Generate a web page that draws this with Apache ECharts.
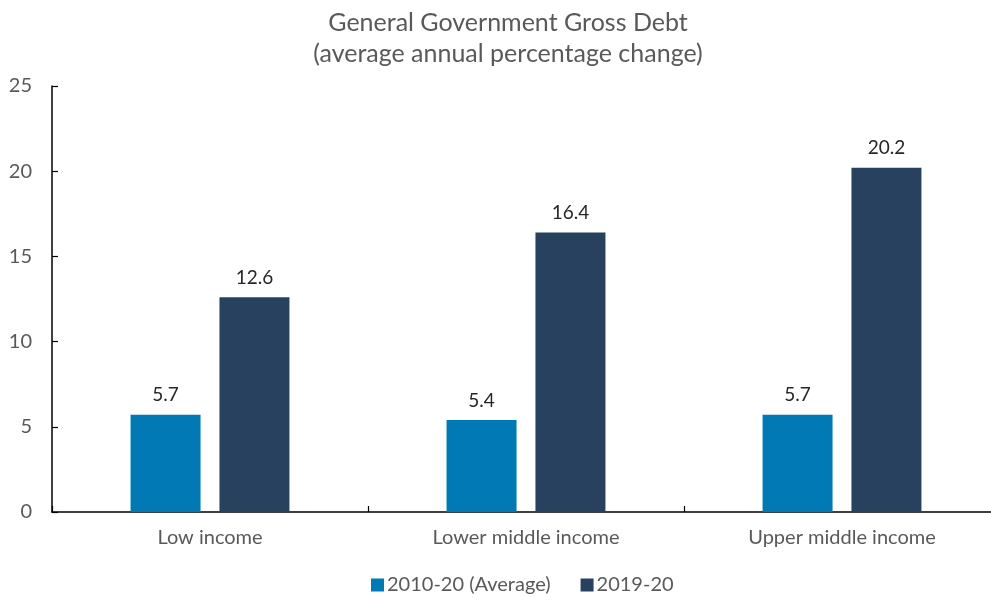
<!DOCTYPE html>
<html><head><meta charset="utf-8">
<script src="https://cdn.jsdelivr.net/npm/echarts@6/dist/echarts.min.js"></script>
<style>html,body{margin:0;padding:0;background:#fff}#c{width:991px;height:601px}</style>
</head><body><div id="c"></div>
<script>
const categories = ['Low income', 'Lower middle income', 'Upper middle income'];
const avg2010_20 = [5.7, 5.4, 5.7];
const yr2019_20 = [12.6, 16.4, 20.2];
const seriesNames = ['2010-20 (Average)', '2019-20'];
const yTicks = [0, 5, 10, 15, 20, 25];

const font = 'Lato, "Open Sans", sans-serif';
const chart = echarts.init(document.getElementById('c'));
chart.setOption({
  animation: false,
  backgroundColor: '#fff',
  title: {
    text: 'General Government Gross Debt\n(average annual percentage change)',
    left: 503, textAlign: 'center', top: 2,
    textStyle: {fontFamily: font, fontSize: 25, fontWeight: 'normal', color: '#595959', lineHeight: 31}
  },
  legend: {
    bottom: 1, left: 366, itemWidth: 13, itemHeight: 13, itemGap: 30,
    icon: 'rect',
    textStyle: {fontFamily: font, fontSize: 20, color: '#595959', padding: [0,0,0,-2]},
    data: seriesNames
  },
  grid: {left: 52, top: 86, width: 948, height: 426, containLabel: false, outerBoundsMode: 'none'},
  xAxis: {
    type: 'category', data: categories,
    axisLine: {lineStyle: {color: '#000', width: 1.5}},
    axisTick: {show: true, length: 6, inside: true, lineStyle: {color: '#000', width: 1.2}},
    axisLabel: {fontFamily: font, fontSize: 20, color: '#595959', margin: 16}
  },
  yAxis: {
    type: 'value', min: yTicks[0], max: yTicks[yTicks.length-1], interval: 5,
    splitLine: {show: false},
    axisLine: {show: true, lineStyle: {color: '#000', width: 1.5}},
    axisTick: {show: true, length: 6, inside: true, lineStyle: {color: '#000', width: 1.2}},
    axisLabel: {fontFamily: font, fontSize: 20, color: '#595959', margin: 20}
  },
  series: [
    {name: seriesNames[0], type: 'bar', data: avg2010_20, barWidth: 70, barGap: '27%',
     itemStyle: {color: '#0079B4'},
     label: {show: true, position: 'top', distance: 10, fontFamily: font, fontSize: 19, color: '#262626'}},
    {name: seriesNames[1], type: 'bar', data: yr2019_20, barWidth: 70,
     itemStyle: {color: '#27415E'},
     label: {show: true, position: 'top', distance: 10, fontFamily: font, fontSize: 19, color: '#262626'}}
  ]
});
</script></body></html>
